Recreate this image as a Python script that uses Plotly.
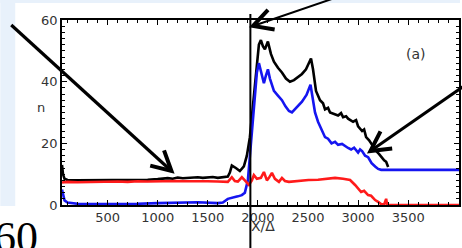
import math
import plotly.graph_objects as go

# ---------------- data ----------------
x_black = [45, 55, 70, 100, 200, 300, 400, 500, 600, 700, 800, 900, 1000, 1100, 1150, 1200, 1250,
           1300, 1350, 1400, 1450, 1500, 1550, 1600, 1650, 1700, 1720, 1740, 1780, 1820, 1860,
           1890, 1920, 1950, 1980, 2010, 2030, 2050, 2070, 2100, 2130, 2160, 2200, 2240, 2280,
           2320, 2360, 2400, 2440, 2480, 2510, 2530, 2550, 2580, 2620, 2650, 2670, 2700, 2720,
           2760, 2800, 2830, 2850, 2880, 2900, 2950, 2980, 3000, 3040, 3060, 3080, 3110, 3130,
           3160, 3180, 3210, 3230, 3260, 3280, 3300]
y_black = [13.0, 10.0, 8.5, 8.1, 8.0, 8.0, 8.0, 8.0, 8.1, 8.1, 8.2, 8.2, 8.4, 8.7, 8.5, 8.9, 8.7,
           8.8, 9.1, 9.0, 8.8, 8.9, 9.1, 8.8, 8.9, 9.2, 10.5, 12.8, 12.0, 11.0, 12.5,
           16.0, 22.0, 32.0, 44.0, 52.0, 53.5, 51.5, 50.5, 53.0, 49.0, 46.5, 44.5, 43.0, 41.0,
           40.0, 40.5, 41.5, 42.5, 44.0, 46.0, 47.5, 44.0, 37.0, 34.0, 33.0, 31.0, 31.5, 30.0,
           29.5, 29.0, 29.8, 28.5, 28.8, 28.0, 27.0, 27.5, 25.5, 24.0, 24.5, 22.0, 21.0, 20.0,
           18.5, 17.5, 16.5, 15.6, 14.5, 14.0, 12.3]

x_blue = [45, 55, 70, 100, 200, 400, 600, 800, 1000, 1200, 1400, 1600, 1650, 1700, 1760, 1800,
          1840, 1870, 1900, 1930, 1960, 1990, 2010, 2030, 2060, 2080, 2100, 2120, 2160, 2200,
          2240, 2275, 2310, 2340, 2370, 2405, 2440, 2485, 2510, 2525, 2545, 2570, 2600, 2640,
          2670, 2700, 2735, 2770, 2800, 2840, 2870, 2900, 2930, 2960, 3000, 3020, 3040, 3070,
          3100, 3135, 3170, 3200, 3230, 4007]
y_blue = [5.0, 3.0, 1.5, 0.8, 0.4, 0.3, 0.3, 0.4, 0.6, 0.8, 0.9, 0.6, 0.8, 2.0, 2.4, 2.8,
          3.2, 4.0, 8.0, 20.0, 34.0, 43.0, 46.0, 43.0, 39.5, 42.0, 44.0, 41.0, 37.0, 35.5,
          34.0, 32.0, 30.5, 30.0, 31.0, 32.0, 33.5, 35.7, 38.0, 39.0, 35.0, 30.0, 27.0, 24.0,
          22.0, 21.5, 20.0, 20.5, 19.5, 19.8, 19.0, 18.5, 18.0, 18.6, 17.0, 18.0, 17.5, 16.0,
          15.5, 13.6, 12.5, 11.7, 11.4, 11.4]

x_red = [45, 100, 200, 300, 400, 500, 600, 700, 800, 900, 1000, 1100, 1200, 1300, 1400, 1500,
         1600, 1700, 1740, 1770, 1800, 1840, 1870, 1910, 1940, 1960, 1990, 2030, 2060, 2090,
         2110, 2140, 2170, 2210, 2240, 2270, 2310, 2400, 2505, 2600, 2700, 2770, 2850, 2920,
         2970, 3000, 3030, 3060, 3100, 3130, 3170, 3200, 3230, 3260, 3280, 3290, 4007]
y_red = [7.3, 7.5, 7.4, 7.5, 7.6, 7.5, 7.6, 7.5, 7.7, 7.6, 7.7, 7.6, 7.8, 7.7, 7.8, 7.7,
         7.6, 7.5, 9.0, 7.8, 7.6, 9.0, 8.0, 6.5, 8.0, 9.7, 8.5, 8.8, 10.7, 8.0,
         8.8, 10.4, 8.5, 7.5, 8.8, 7.8, 7.5, 7.8, 8.1, 8.2, 8.5, 8.8, 8.5, 8.1,
         6.5, 5.5, 4.2, 4.6, 3.2, 3.0, 1.6, 1.0, 0.3, 0.2, 2.0, 0.0, 0.0]

x_marker = 1925            # vertical marker line position (X/Δ)
x_range = [45, 4007]
y_range = [0, 60]
x_ticks = [500, 1000, 1500, 2000, 2500, 3000, 3500]
y_ticks = [0, 20, 40, 60]

# ---------------- layout helpers ----------------
W, H = 462, 248
L, R, T, B = 62, 1, 20, 43
PW, PH = W - L - R, H - T - B


def px(p):
    return (p - L) / PW


def py(p):
    return (H - B - p) / PH


fig = go.Figure()
fig.add_trace(go.Scatter(x=x_black, y=y_black, mode="lines",
                         line=dict(color="black", width=2.6), showlegend=False))
fig.add_trace(go.Scatter(x=x_blue, y=y_blue, mode="lines",
                         line=dict(color="#1515f0", width=2.6), showlegend=False))
fig.add_trace(go.Scatter(x=x_red, y=y_red, mode="lines",
                         line=dict(color="#ff1a1a", width=2.6), showlegend=False))

shapes = []
bg = "#e8f1fb"
# light blue page strips
shapes.append(dict(type="rect", xref="paper", yref="paper", layer="below",
                   x0=px(0), x1=px(W), y0=py(3), y1=py(0), fillcolor=bg, line_width=0))
shapes.append(dict(type="rect", xref="paper", yref="paper", layer="below",
                   x0=px(0), x1=px(15), y0=py(206), y1=py(0), fillcolor=bg, line_width=0))
# vertical marker line
shapes.append(dict(type="line", xref="x", yref="paper", x0=x_marker, x1=x_marker,
                   y0=py(H + 2), y1=py(14), line=dict(color="black", width=2)))


def arrow(start, tip, lw, head_len=22, head_ang=28, head_w=4):
    sx, sy = start
    tx, ty = tip
    shapes.append(dict(type="path", xref="paper", yref="paper",
                       path=f"M {px(sx)},{py(sy)} L {px(tx)},{py(ty)}",
                       line=dict(color="black", width=lw)))
    ang = math.atan2(sy - ty, sx - tx)
    pts = []
    for d in (-head_ang, head_ang):
        a = ang + math.radians(d)
        pts.append((tx + head_len * math.cos(a), ty + head_len * math.sin(a)))
    shapes.append(dict(type="path", xref="paper", yref="paper",
                       path=(f"M {px(pts[0][0])},{py(pts[0][1])} L {px(tx)},{py(ty)} "
                             f"L {px(pts[1][0])},{py(pts[1][1])}"),
                       line=dict(color="black", width=head_w)))


arrow((11, 25), (172, 171), 3.2)
arrow((342, -4), (254, 26), 2.0)
arrow((466, 86), (372, 151), 3.0)

font_sans = "DejaVu Sans"
annotations = [
    dict(text="n", x=px(35), y=py(107), xref="paper", yref="paper", showarrow=False,
         font=dict(family=font_sans, size=13, color="#333")),
    dict(text="(a)", x=px(430), y=py(44), xref="paper", yref="paper", showarrow=False,
         font=dict(family=font_sans, size=14, color="#333")),
    dict(text="X/Δ", x=px(264), y=py(236), xref="paper", yref="paper", showarrow=False,
         font=dict(family=font_sans, size=14, color="#333")),
    dict(text="60", x=px(-8), y=py(211), xref="paper", yref="paper", showarrow=False,
         xanchor="left", yanchor="top",
         font=dict(family="Liberation Serif", size=44, color="black")),
]

axis_common = dict(showline=True, linecolor="black", linewidth=1.6, mirror="ticks",
                   ticks="inside", ticklen=5, tickcolor="black", showgrid=False, zeroline=False,
                   tickfont=dict(family=font_sans, size=13, color="#333"))

fig.update_layout(
    width=W, height=H, margin=dict(l=L, r=R, t=T, b=B),
    paper_bgcolor="white", plot_bgcolor="white",
    shapes=shapes, annotations=annotations,
    xaxis=dict(range=x_range, tickvals=x_ticks, ticklabelstandoff=0,
               minor=dict(dtick=100, ticks="inside", ticklen=3, tickcolor="black"),
               **axis_common),
    yaxis=dict(range=y_range, tickvals=y_ticks,
               minor=dict(dtick=2, ticks="inside", ticklen=3, tickcolor="black"),
               **axis_common),
)

fig.write_html("out.html", config={"displayModeBar": False},
               post_script="document.body.style.margin='0px';document.body.style.overflow='hidden';")
